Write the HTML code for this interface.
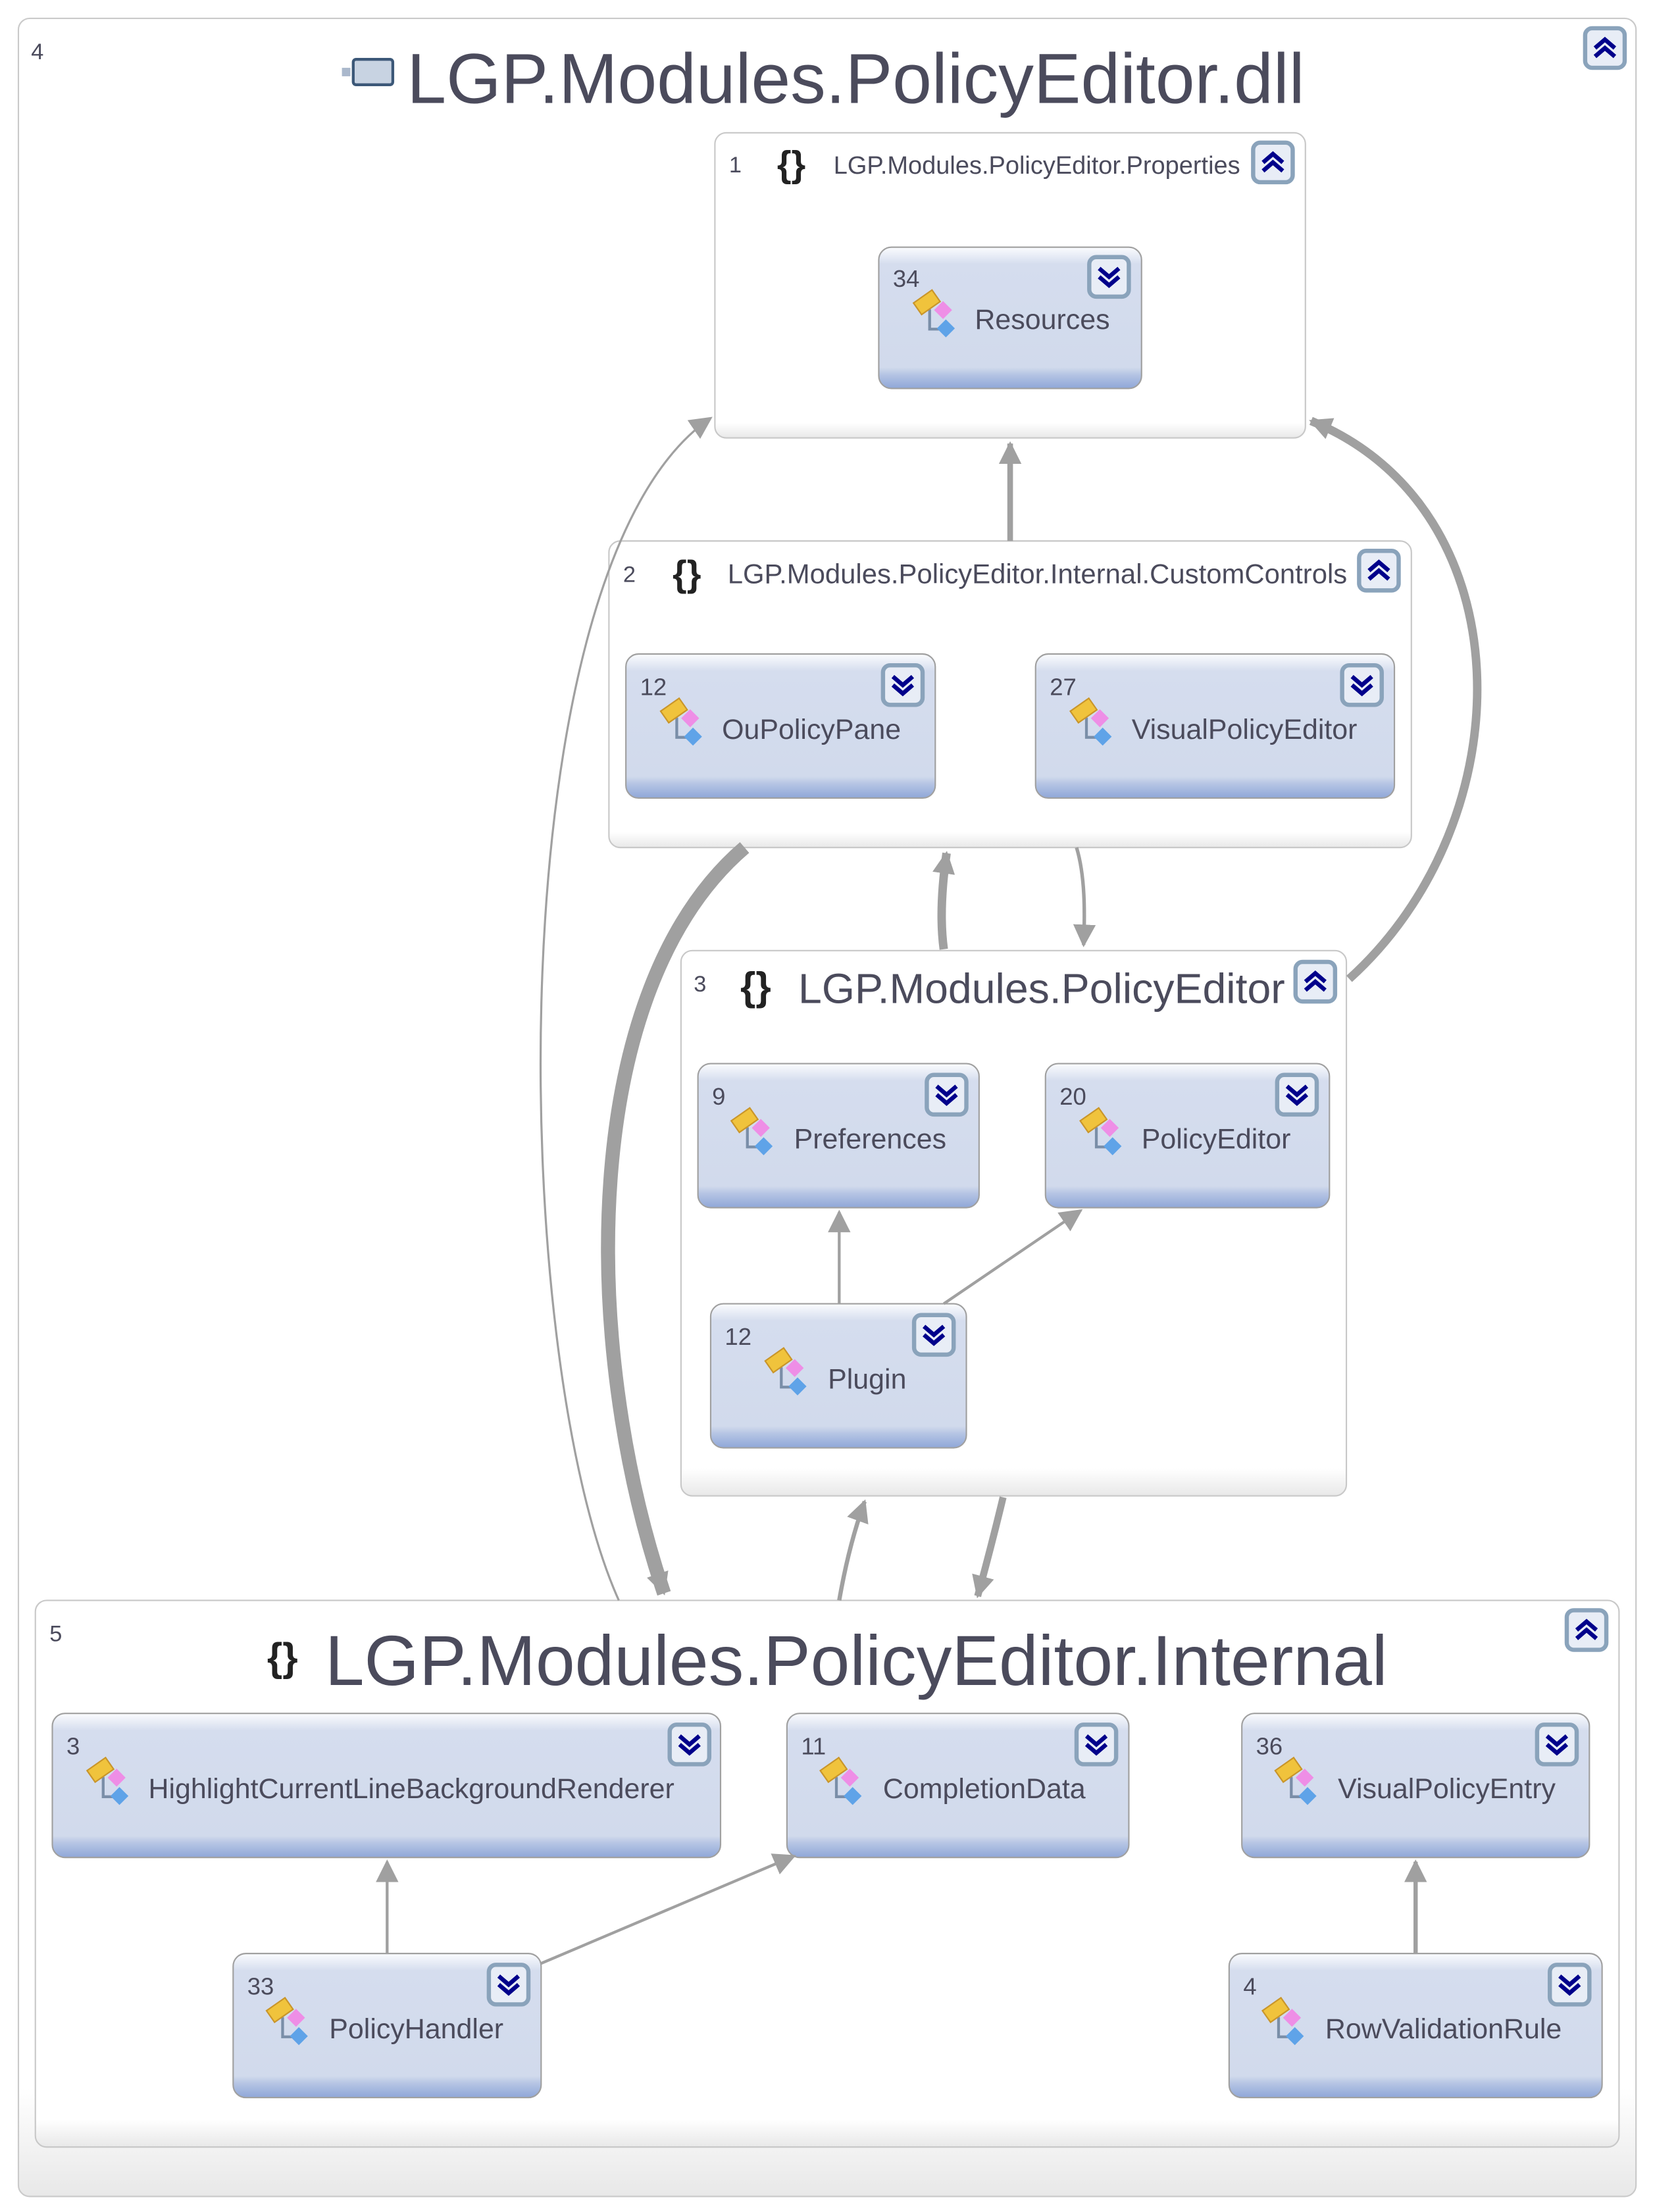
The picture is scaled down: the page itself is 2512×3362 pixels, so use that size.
<!DOCTYPE html>
<html><head><meta charset="utf-8"><style>html,body{margin:0;padding:0;background:#fff}svg{display:block}text{font-family:"Liberation Sans",sans-serif;fill:#4b4b5c}</style></head><body>
<svg width="2512" height="3362" viewBox="0 0 1170 1566" xmlns="http://www.w3.org/2000/svg">
<defs>
<linearGradient id="ng" x1="0" y1="0" x2="0" y2="1">
<stop offset="0" stop-color="#fbfcfe"/><stop offset="0.12" stop-color="#d5ddee"/><stop offset="0.85" stop-color="#d1daec"/><stop offset="0.9" stop-color="#b6c5e4"/><stop offset="1" stop-color="#8fa7d8"/></linearGradient>
<linearGradient id="gg" x1="0" y1="0" x2="0" y2="1">
<stop offset="0" stop-color="#fff"/><stop offset="0.95" stop-color="#fff"/><stop offset="1" stop-color="#e8e8e8"/></linearGradient>
<marker id="a" markerUnits="userSpaceOnUse" markerWidth="16" markerHeight="16" viewBox="0 0 10 10" refX="9" refY="5" orient="auto"><path d="M0,0 L10,5 L0,10 z" fill="#a0a0a0"/></marker>
<g id="btnd"><rect x="0" y="0" width="28" height="28" rx="5" fill="#e8edf6" stroke="#8aa3bb" stroke-width="3"/><path d="M7,8 L14,14 L21,8 M7,14 L14,20 L21,14" fill="none" stroke="#00008b" stroke-width="3"/></g>
<g id="btnu"><rect x="0" y="0" width="28" height="28" rx="5" fill="#e8edf6" stroke="#8aa3bb" stroke-width="3"/><path d="M7,14 L14,8 L21,14 M7,20 L14,14 L21,20" fill="none" stroke="#00008b" stroke-width="3"/></g>
<g id="ic"><path d="M8,10 L8,24 L18,24" fill="none" stroke="#7a8ea8" stroke-width="2"/><rect x="-2" y="0" width="16" height="10" fill="#f0c33c" stroke="#c9952a" transform="rotate(-35 6 5)"/><rect x="13" y="6" width="9" height="9" fill="#ee8ee6" transform="rotate(45 17.5 10.5)"/><rect x="15" y="19" width="9" height="9" fill="#5fa3e8" transform="rotate(45 19.5 23.5)"/></g>
</defs>
<rect x="13" y="13" width="1145" height="1542" rx="8" fill="url(#gg)" stroke="#cacaca"/>
<text x="22" y="42" font-size="16">4</text>
<rect x="250" y="42" width="28" height="18" rx="2" fill="#c8d3e2" stroke="#3c5878" stroke-width="2"/><rect x="242" y="48" width="6" height="6" fill="#aab8cc"/>
<text x="288" y="73" font-size="50">LGP.Modules.PolicyEditor.dll</text>
<use href="#btnu" x="1122" y="20"/>

<rect x="506" y="94" width="418" height="216" rx="8" fill="url(#gg)" stroke="#c8c8c8"/>
<text x="516" y="122" font-size="16">1</text><text x="550" y="125" font-size="26" font-weight="bold" style="fill:#222">{}</text>
<text x="590" y="123" font-size="17.7">LGP.Modules.PolicyEditor.Properties</text>
<use href="#btnu" x="887" y="101"/>
<rect x="622" y="175" width="186" height="100" rx="9" fill="url(#ng)" stroke="#a0a0a0"/>
<text x="632" y="203" font-size="17">34</text><use href="#ic" x="650" y="209"/><text x="690" y="233" font-size="20">Resources</text>
<use href="#btnd" x="771" y="182"/>

<rect x="431" y="383" width="568" height="217" rx="8" fill="url(#gg)" stroke="#c8c8c8"/>
<text x="441" y="412" font-size="16">2</text><text x="476" y="415" font-size="26" font-weight="bold" style="fill:#222">{}</text>
<text x="515" y="413" font-size="19.5">LGP.Modules.PolicyEditor.Internal.CustomControls</text>
<use href="#btnu" x="962" y="390"/>
<rect x="443" y="463" width="219" height="102" rx="9" fill="url(#ng)" stroke="#a0a0a0"/>
<text x="453" y="492" font-size="17">12</text><use href="#ic" x="471" y="498"/><text x="511" y="523" font-size="20">OuPolicyPane</text><use href="#btnd" x="625" y="471"/>
<rect x="733" y="463" width="254" height="102" rx="9" fill="url(#ng)" stroke="#a0a0a0"/>
<text x="743" y="492" font-size="17">27</text><use href="#ic" x="761" y="498"/><text x="801" y="523" font-size="20">VisualPolicyEditor</text><use href="#btnd" x="950" y="471"/>

<rect x="482" y="673" width="471" height="386" rx="8" fill="url(#gg)" stroke="#c8c8c8"/>
<text x="491" y="702" font-size="16">3</text><text x="524" y="708" font-size="28" font-weight="bold" style="fill:#222">{}</text>
<text x="565" y="710" font-size="30">LGP.Modules.PolicyEditor</text>
<use href="#btnu" x="917" y="681"/>
<rect x="494" y="753" width="199" height="102" rx="9" fill="url(#ng)" stroke="#a0a0a0"/>
<text x="504" y="782" font-size="17">9</text><use href="#ic" x="521" y="788"/><text x="562" y="813" font-size="20">Preferences</text><use href="#btnd" x="656" y="761"/>
<rect x="740" y="753" width="201" height="102" rx="9" fill="url(#ng)" stroke="#a0a0a0"/>
<text x="750" y="782" font-size="17">20</text><use href="#ic" x="768" y="788"/><text x="808" y="813" font-size="20">PolicyEditor</text><use href="#btnd" x="904" y="761"/>
<rect x="503" y="923" width="181" height="102" rx="9" fill="url(#ng)" stroke="#a0a0a0"/>
<text x="513" y="952" font-size="17">12</text><use href="#ic" x="545" y="958"/><text x="586" y="983" font-size="20">Plugin</text><use href="#btnd" x="647" y="931"/>

<rect x="25" y="1133" width="1121" height="387" rx="8" fill="url(#gg)" stroke="#c8c8c8"/>
<text x="35" y="1162" font-size="16">5</text><text x="189" y="1183" font-size="28" font-weight="bold" style="fill:#222">{}</text>
<text x="230" y="1193" font-size="50">LGP.Modules.PolicyEditor.Internal</text>
<use href="#btnu" x="1109" y="1140"/>
<rect x="37" y="1213" width="473" height="102" rx="9" fill="url(#ng)" stroke="#a0a0a0"/>
<text x="47" y="1242" font-size="17">3</text><use href="#ic" x="65" y="1248"/><text x="105" y="1273" font-size="20">HighlightCurrentLineBackgroundRenderer</text><use href="#btnd" x="474" y="1221"/>
<rect x="557" y="1213" width="242" height="102" rx="9" fill="url(#ng)" stroke="#a0a0a0"/>
<text x="567" y="1242" font-size="17">11</text><use href="#ic" x="584" y="1248"/><text x="625" y="1273" font-size="20">CompletionData</text><use href="#btnd" x="762" y="1221"/>
<rect x="879" y="1213" width="246" height="102" rx="9" fill="url(#ng)" stroke="#a0a0a0"/>
<text x="889" y="1242" font-size="17">36</text><use href="#ic" x="906" y="1248"/><text x="947" y="1273" font-size="20">VisualPolicyEntry</text><use href="#btnd" x="1088" y="1221"/>
<rect x="165" y="1383" width="218" height="102" rx="9" fill="url(#ng)" stroke="#a0a0a0"/>
<text x="175" y="1412" font-size="17">33</text><use href="#ic" x="192" y="1418"/><text x="233" y="1443" font-size="20">PolicyHandler</text><use href="#btnd" x="346" y="1391"/>
<rect x="870" y="1383" width="264" height="102" rx="9" fill="url(#ng)" stroke="#a0a0a0"/>
<text x="880" y="1412" font-size="17">4</text><use href="#ic" x="897" y="1418"/><text x="938" y="1443" font-size="20">RowValidationRule</text><use href="#btnd" x="1097" y="1391"/>

<g fill="none" stroke="#a0a0a0" marker-end="url(#a)">
<path d="M438,1133 C360,960 350,400 503,296" stroke-width="1.5"/>
<path d="M715,383 L715,314" stroke-width="4"/>
<path d="M955,693 C1080,580 1080,360 928,298" stroke-width="6"/>
<path d="M527,600 C410,700 410,950 470,1128" stroke-width="10"/>
<path d="M668,672 C665,650 667,625 670,604" stroke-width="6"/>
<path d="M762,600 C768,620 768,645 767,669" stroke-width="2.5"/>
<path d="M594,1133 C598,1110 604,1085 612,1063" stroke-width="3"/>
<path d="M710,1060 C704,1085 698,1108 692,1130" stroke-width="5"/>
<path d="M594,923 L594,858" stroke-width="2"/>
<path d="M668,923 L765,857" stroke-width="2"/>
<path d="M274,1383 L274,1318" stroke-width="2"/>
<path d="M383,1390 L562,1314" stroke-width="2"/>
<path d="M1002,1383 L1002,1318" stroke-width="3"/>
</g>
</svg>
</body></html>
